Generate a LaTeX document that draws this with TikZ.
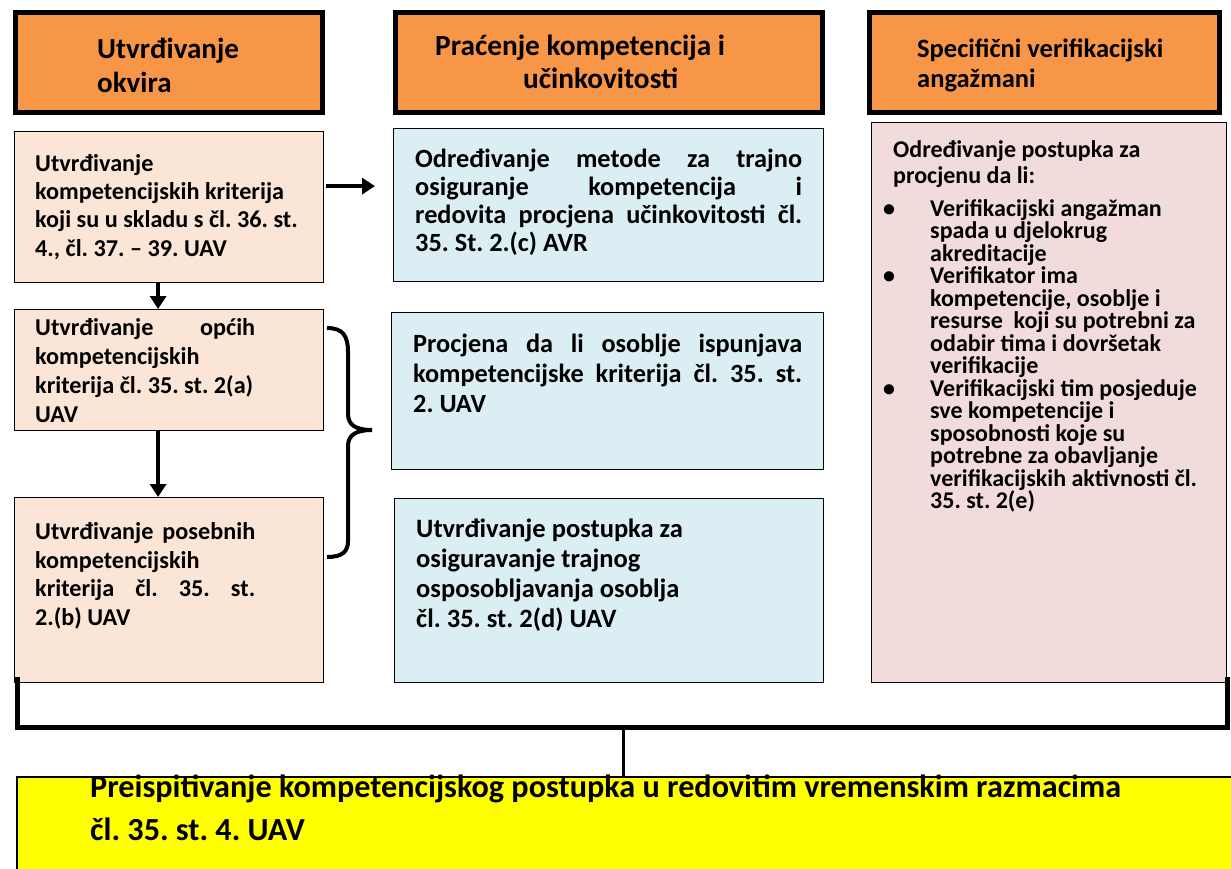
\documentclass[tikz,border=0pt]{standalone}
\usepackage{fontspec}
\setmainfont{Carlito}
\frenchspacing
\usetikzlibrary{arrows.meta,calc}

\definecolor{hdrorange}{HTML}{F79646}
\definecolor{peach}{HTML}{FBE5D6}
\definecolor{paleblue}{HTML}{DAEEF3}
\definecolor{palerose}{HTML}{F2DCDB}
\definecolor{revyellow}{RGB}{255,255,0}

% one stretched line of justified text
\newcommand{\spreadto}[2]{\makebox[#1][s]{#2}}

\begin{document}
\begin{tikzpicture}
  [x=1pt, y=-1pt,
   hdr/.style={draw, line width=5pt, fill=hdrorange, anchor=north west, inner sep=0pt},
   box/.style={draw, line width=1.2pt, anchor=north west, inner sep=0pt},
   txt/.style={anchor=base west, inner sep=0pt, align=left},
   arr/.style={line width=4.5pt, -{Triangle[length=13pt,width=16pt]}}]
  \useasboundingbox (0,0) rectangle (1231,868);

  % column headers (text nodes sit on the baseline of their last line)
  \node[hdr, minimum width=307, minimum height=100] (h1) at (13,10) {};
  \node[hdr, minimum width=427, minimum height=100] (h2) at (393,10) {};
  \node[hdr, minimum width=350, minimum height=100] (h3) at (867,10) {};
  \node[txt, font=\bfseries\fontsize{29}{34}\selectfont] (h1t) at (97,92) {Utvrđivanje\\okvira};
  \node[txt, font=\bfseries\fontsize{29.3}{33}\selectfont] (h2t) at (435,88)
    {Praćenje kompetencija i\\\hspace*{88pt}učinkovitosti};
  \node[txt, font=\bfseries\fontsize{26.5}{30}\selectfont] (h3t) at (917,87)
    {Specifični verifikacijski\\angažmani};

  % left column
  \node[box, fill=peach, minimum width=309, minimum height=151] (l1) at (14,131) {};
  \node[box, fill=peach, minimum width=309, minimum height=121] (l2) at (14,309) {};
  \node[box, fill=peach, minimum width=309, minimum height=185] (l3) at (14,497) {};
  \node[txt, font=\bfseries\fontsize{24.2}{28.3}\selectfont] (l1t) at (35,256)
    {Utvrđivanje\\kompetencijskih kriterija\\koji su u skladu s čl. 36. st.\\4., čl. 37. – 39. UAV};
  \node[txt, font=\bfseries\fontsize{24.2}{29}\selectfont] (l2t) at (35,422)
    {\spreadto{220pt}{Utvrđivanje \hfill općih}\\kompetencijskih\\kriterija čl. 35. st. 2(a)\\UAV};
  \node[txt, font=\bfseries\fontsize{24.2}{28.5}\selectfont] (l3t) at (35,625)
    {\spreadto{220pt}{Utvrđivanje posebnih}\\kompetencijskih\\\spreadto{220pt}{kriterija čl. 35. st.}\\2.(b) UAV};

  % middle column
  \node[box, fill=paleblue, minimum width=430, minimum height=153] (m1) at (393,128) {};
  \node[box, fill=paleblue, minimum width=432, minimum height=157] (m2) at (391,312) {};
  \node[box, fill=paleblue, minimum width=429, minimum height=184] (m3) at (394,498) {};
  \node[txt, font=\bfseries\fontsize{26.3}{28}\selectfont] (m1t) at (415,251)
    {\spreadto{387pt}{Određivanje metode za trajno}\\\spreadto{387pt}{osiguranje kompetencija i}\\
     \spreadto{387pt}{redovita procjena učinkovitosti čl.}\\35. St. 2.(c) AVR};
  \node[txt, font=\bfseries\fontsize{26.3}{30}\selectfont] (m2t) at (413,412)
    {\spreadto{389pt}{Procjena da li osoblje ispunjava}\\\spreadto{389pt}{kompetencijske kriterija čl. 35. st.}\\2. UAV};
  \node[txt, font=\bfseries\fontsize{26.5}{30}\selectfont] (m3t) at (416,627)
    {Utvrđivanje postupka za\\osiguravanje trajnog\\osposobljavanja osoblja\\čl. 35. st. 2(d) UAV};

  % right column
  \node[box, fill=palerose, minimum width=355, minimum height=560] (r) at (871,122) {};
  \node[txt, font=\bfseries\fontsize{24}{26}\selectfont] (rt) at (893,183)
    {Određivanje postupka za\\procjenu da li:};
  \node[txt, font=\bfseries\fontsize{24}{22.5}\selectfont] (rlist) at (883,508.5)
    {\makebox[47pt][l]{\textbullet}Verifikacijski angažman\\
     \hspace*{47pt}spada u djelokrug\\
     \hspace*{47pt}akreditacije\\
     \makebox[47pt][l]{\textbullet}Verifikator ima\\
     \hspace*{47pt}kompetencije, osoblje i\\
     \hspace*{47pt}resurse\ \ koji su potrebni za\\
     \hspace*{47pt}odabir tima i dovršetak\\
     \hspace*{47pt}verifikacije\\
     \makebox[47pt][l]{\textbullet}Verifikacijski tim posjeduje\\
     \hspace*{47pt}sve kompetencije i\\
     \hspace*{47pt}sposobnosti koje su\\
     \hspace*{47pt}potrebne za obavljanje\\
     \hspace*{47pt}verifikacijskih aktivnosti čl.\\
     \hspace*{47pt}35. st. 2(e)};

  % review box
  \node[box, fill=revyellow, line width=1.5pt, minimum width=1300, minimum height=200] (rev) at (16,776) {};
  \node[txt, font=\bfseries\fontsize{32.2}{43}\selectfont] (revt) at (90,840)
    {Preispitivanje kompetencijskog postupka u redovitim vremenskim razmacima\\čl. 35. st. 4. UAV};

  % connectors
  \draw[arr] ([xshift=-11pt]l1.south) -- ([xshift=-11pt]l2.north);
  \draw[arr] ([xshift=-11pt]l2.south) -- ([xshift=-11pt]l3.north);
  \draw[arr] ($(l1.east)+(2,-21)$) -- ($(l1.east -| m1.west)+(-18,-21)$);

  \coordinate (bt) at (327,328);
  \coordinate (bp) at (372,430);
  \coordinate (bb) at (327,557);
  \draw[line width=4pt] (bt) .. controls (343,328) and (348,336) .. (348,352) -- (348,414)
    .. controls (348,425) and (356,430) .. (bp)
    .. controls (356,430) and (348,435) .. (348,446) -- (348,541)
    .. controls (348,551) and (343,557) .. (bb);

  \coordinate (brl) at (17,677);
  \coordinate (brr) at (1227,677);
  \coordinate (join) at (623,727);
  \draw[line width=5pt] (brl) |- (join) -| (brr);
  \draw[line width=3pt] (join) -- (join |- rev.north);
\end{tikzpicture}
\end{document}
